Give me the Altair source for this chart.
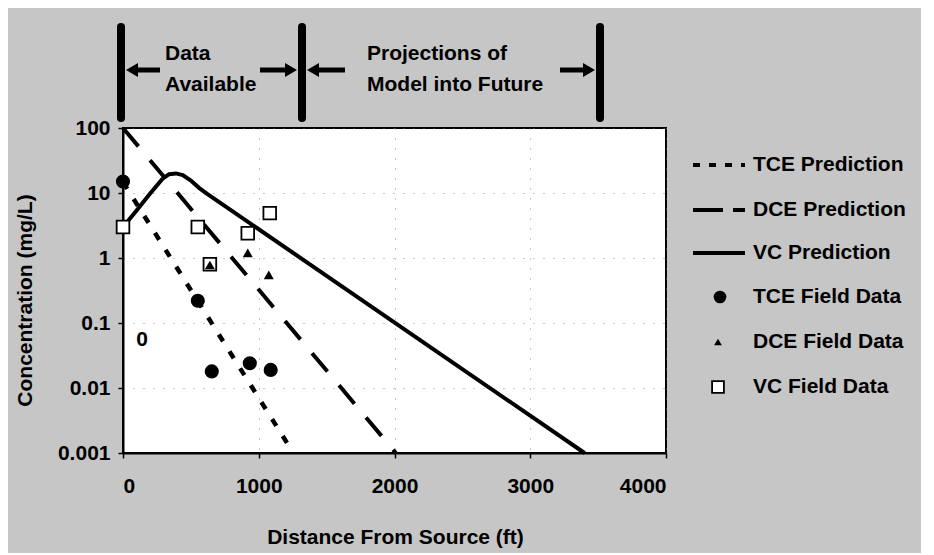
import altair as alt
import pandas as pd

# ---- data ----
tce_pred_x = [0, 1255]
tce_pred_y = [14.7, 0.001]
dce_pred_x = [0, 2010]
dce_pred_y = [100, 0.001]
vc_pred_x = [0, 100, 200, 290, 340, 390, 440, 500, 560, 620, 3400]
vc_pred_y = [3.0, 5.4, 9.8, 16.5, 19.5, 20.0, 18.8, 15.5, 12.0, 9.7, 0.001]

tce_field_x = [0, 551, 654, 934, 1088]
tce_field_y = [15, 0.22, 0.018, 0.024, 0.019]
dce_field_x = [640, 919, 1074]
dce_field_y = [0.78, 1.2, 0.55]
vc_field_x = [0, 551, 640, 919, 1081]
vc_field_y = [3.0, 3.0, 0.8, 2.4, 4.9]

x_ticks = [0, 1000, 2000, 3000, 4000]
y_ticks = [0.001, 0.01, 0.1, 1, 10, 100]

legend_labels = ["TCE Prediction", "DCE Prediction", "VC Prediction",
                 "TCE Field Data", "DCE Field Data", "VC Field Data"]

FONT = "Liberation Sans"
FS = 21


def df(xs, ys):
    return pd.DataFrame({"x": xs, "y": ys})


def one():
    return pd.DataFrame({"k": [0]})


X = alt.X("x:Q", scale=alt.Scale(domain=[0, 4000], nice=False, zero=False),
          axis=alt.Axis(values=x_ticks, title="Distance From Source (ft)",
                        labelPadding=17, tickSize=5, titleX=272, titleY=84,
                        titleBaseline="middle", titleAlign="center", format="d"))
Y = alt.Y("y:Q", scale=alt.Scale(type="log", domain=[0.001, 100], nice=False),
          axis=alt.Axis(values=y_ticks, format="~g", title="Concentration (mg/L)",
                        labelPadding=8, tickSize=5, titleX=-98, titleY=172,
                        titleAngle=-90, titleBaseline="middle", titleAlign="center"))

tce_line = alt.Chart(df(tce_pred_x, tce_pred_y)).mark_line(
    color="black", strokeWidth=4.5, strokeDash=[8, 12]).encode(x=X, y=Y)
dce_line = alt.Chart(df(dce_pred_x, dce_pred_y)).mark_line(
    color="black", strokeWidth=4, strokeDash=[24, 18]).encode(x=X, y=Y)
vc_line = alt.Chart(df(vc_pred_x, vc_pred_y)).mark_line(
    color="black", strokeWidth=4).encode(x=X, y=Y)

vc_pts = alt.Chart(df(vc_field_x, vc_field_y)).mark_point(
    shape="square", filled=True, fill="white", stroke="black", strokeWidth=1.8,
    size=160, opacity=1).encode(x=X, y=Y)
dce_pts = alt.Chart(df(dce_field_x, dce_field_y)).mark_point(
    shape="triangle-up", filled=True, color="black", size=100, opacity=1).encode(x=X, y=Y)
tce_pts = alt.Chart(df(tce_field_x, tce_field_y)).mark_point(
    shape="circle", filled=True, color="black", size=200, opacity=1).encode(x=X, y=Y)

layers = [tce_line, dce_line, vc_line, vc_pts, dce_pts, tce_pts]

# stray "0" inside the plot
layers.append(alt.Chart(one()).mark_text(
    text="0", font=FONT, fontSize=FS, fontWeight="bold", color="black",
    align="center", baseline="middle").encode(x=alt.value(19), y=alt.value(212)))

# ---- annotation above plot ----
for bx in [-2, 179, 477]:
    layers.append(alt.Chart(one()).mark_rule(
        color="black", strokeWidth=8, strokeCap="round").encode(
        x=alt.value(bx), y=alt.value(-101), y2=alt.value(-10)))

for x1, x2, hx, shape in [(9, 37, 9, "triangle-left"),
                          (137, 168, 168, "triangle-right"),
                          (190, 222, 190, "triangle-left"),
                          (437, 466, 466, "triangle-right")]:
    layers.append(alt.Chart(one()).mark_rule(color="black", strokeWidth=5).encode(
        x=alt.value(x1), x2=alt.value(x2), y=alt.value(-58)))
    layers.append(alt.Chart(one()).mark_point(
        shape=shape, filled=True, color="black", size=190, opacity=1).encode(
        x=alt.value(hx), y=alt.value(-58)))

for txt, tx, ty in [("Data", 42, -74), ("Available", 42, -43),
                    ("Projections of", 244, -74), ("Model into Future", 244, -43)]:
    layers.append(alt.Chart(one()).mark_text(
        text=txt, font=FONT, fontSize=FS, fontWeight="bold", color="black",
        align="left", baseline="middle").encode(x=alt.value(tx), y=alt.value(ty)))

# ---- legend ----
leg_y = [37, 82, 125, 169, 214, 259]
dashes = [[7, 9], [30, 10], None]
for i in range(3):
    kw = dict(color="black", strokeWidth=4)
    if dashes[i]:
        kw["strokeDash"] = dashes[i]
    layers.append(alt.Chart(one()).mark_rule(**kw).encode(
        x=alt.value(570), x2=alt.value(622), y=alt.value(leg_y[i])))
layers.append(alt.Chart(one()).mark_point(
    shape="circle", filled=True, color="black", size=160, opacity=1).encode(
    x=alt.value(597), y=alt.value(leg_y[3])))
layers.append(alt.Chart(one()).mark_point(
    shape="triangle-up", filled=True, color="black", size=60, opacity=1).encode(
    x=alt.value(595), y=alt.value(leg_y[4])))
layers.append(alt.Chart(one()).mark_point(
    shape="square", filled=True, fill="white", stroke="black", strokeWidth=1.8,
    size=140, opacity=1).encode(x=alt.value(595), y=alt.value(leg_y[5])))
for lab, ly in zip(legend_labels, leg_y):
    layers.append(alt.Chart(one()).mark_text(
        text=lab, font=FONT, fontSize=FS, fontWeight="bold", color="black",
        align="left", baseline="middle").encode(x=alt.value(630), y=alt.value(ly)))

chart = alt.layer(*layers).properties(
    width=543, height=325,
    padding={"left": 115, "top": 120, "right": 255, "bottom": 100},
    autosize=alt.AutoSizeParams(type="none"),
    background="#c6c6c6",
).configure_view(
    stroke="black", strokeWidth=2, fill="white"
).configure_axis(
    domainColor="black", domainWidth=2, tickColor="black", tickWidth=1.5,
    labelFont=FONT, labelFontSize=FS, labelFontWeight="bold", labelColor="black",
    titleFont=FONT, titleFontSize=FS, titleFontWeight="bold", titleColor="black",
    grid=True, gridColor="#777777", gridDash=[1, 9], gridWidth=1, gridOpacity=0.8,
)

chart.save("out.html", embed_options={"renderer": "svg", "actions": False})
